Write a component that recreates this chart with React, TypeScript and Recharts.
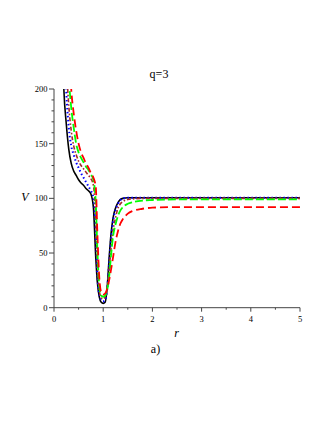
import React from "react";
import { LineChart, Line, XAxis, YAxis } from "recharts";

const rValues = [0.15,0.2,0.25,0.3,0.35,0.4,0.45,0.5,0.55,0.6,0.65,0.7,0.75,0.8,0.85,0.88,0.92,0.96,1,1.04,1.08,1.12,1.16,1.2,1.25,1.3,1.35,1.4,1.5,1.6,1.8,2,2.5,3,4,5];
const blackV = [280,200,168,145,132,125,121,117,114,112,109,107,104,92,45,24,10,5,4,5,18,45,68,82,91,96,99,100,100.5,100.5,100.5,100.5,100.5,100.5,100.5,100.5];
const blueV = [340,250,197,165,148,140,133,128,123,119,115,111,107,101,70,32,12,7,6,7,17,40,63,79,89,95,98.5,100,100.5,100.5,100.5,100.5,100.5,100.5,100.5,100.5];
const brownV = [400,290,225,185,162,148,140,134,130,127,124,121,118,112,82,42,16,9,8,10,18,35,55,70,82,91,95,97,99,99.5,100,100,100,100,100,100];
const greenV = [520,380,270,212,183,165,150,142,137,133,129,126,122,117,95,55,20,11,10,11,16,28,48,65,76,84,89,92,95,96.5,98,98.5,99,99,99,99];
const redV = [600,420,320,245,200,178,162,150,142,137,132,128,123,119,110,70,28,14,12,13,17,25,35,46,60,70,77,81,86,88.5,90.5,91.5,92,92,92,92];

const xTicks = [0,0.5,1,1.5,2,2.5,3,3.5,4,4.5,5];
const yTicks = Array.from({ length: 21 }, (_, i) => i * 10);
const xMajor = [0,1,2,3,4,5];
const yMajor = [0,50,100,150,200];

const data = rValues.map((r, i) => ({
  r,
  black: blackV[i],
  blue: blueV[i],
  brown: brownV[i],
  green: greenV[i],
  red: redV[i],
}));

const FONT = "'Liberation Serif', 'Times New Roman', serif";
const AXIS = "#444";

const XTick = (props: any) => {
  const { x, y, payload } = props;
  const major = xMajor.includes(payload.value);
  return (
    <g>
      <line x1={x} x2={x} y1={y} y2={y + (major ? 4 : 2)} stroke={AXIS} strokeWidth={1} />
      {major && (
        <text x={x} y={y + 14.3} textAnchor="middle" fontSize={8.5} fontFamily={FONT} fill="#000">
          {payload.value}
        </text>
      )}
    </g>
  );
};

const YTick = (props: any) => {
  const { x, y, payload } = props;
  const major = yMajor.includes(payload.value);
  return (
    <g>
      <line x1={x - (major ? 5 : 2.5)} x2={x} y1={y} y2={y} stroke={AXIS} strokeWidth={1} />
      {major && (
        <text x={x - 6.5} y={y + 3} textAnchor="end" fontSize={8.5} fontFamily={FONT} fill="#000">
          {payload.value}
        </text>
      )}
    </g>
  );
};

export default function App() {
  return (
    <div style={{ position: "relative", width: 319, height: 415 }}>
      <LineChart
        width={319}
        height={415}
        data={data}
        margin={{ top: 81, right: 27, left: 6, bottom: 85.3 }}
      >
        <XAxis
          dataKey="r"
          type="number"
          domain={[0, 5]}
          ticks={xTicks}
          tick={<XTick />}
          tickLine={false}
          tickSize={0}
          tickMargin={0}
          axisLine={{ stroke: AXIS, strokeWidth: 1 }}
          height={30}
          allowDataOverflow
        />
        <YAxis
          type="number"
          domain={[0, 200]}
          ticks={yTicks}
          tick={<YTick />}
          tickLine={false}
          tickSize={0}
          tickMargin={0}
          axisLine={{ stroke: AXIS, strokeWidth: 1 }}
          width={40}
          allowDataOverflow
          interval={0}
        />
        <Line dataKey="black" type="monotone" stroke="#000000" strokeWidth={1.6} dot={false} isAnimationActive={false} />
        <Line dataKey="blue" type="monotone" stroke="#0000ff" strokeWidth={2} strokeDasharray="1.5 2.5" dot={false} isAnimationActive={false} />
        <Line dataKey="brown" type="monotone" stroke="#a52a2a" strokeWidth={1.6} strokeDasharray="4 2 1.5 2" dot={false} isAnimationActive={false} />
        <Line dataKey="green" type="monotone" stroke="#00ff00" strokeWidth={1.8} strokeDasharray="8 3" dot={false} isAnimationActive={false} />
        <Line dataKey="red" type="monotone" stroke="#ff0000" strokeWidth={1.8} strokeDasharray="8 4" dot={false} isAnimationActive={false} />
      </LineChart>
      <svg
        width={319}
        height={415}
        style={{ position: "absolute", left: 0, top: 0, pointerEvents: "none" }}
      >
        <text x={151} y={70} textAnchor="middle" fontSize={12} fontFamily={FONT} fill="#000">q=3</text>
        <text x={17} y={192.7} textAnchor="middle" fontSize={12} fontStyle="italic" fontFamily={FONT} fill="#000">V</text>
        <text x={168.5} y={329} textAnchor="middle" fontSize={12} fontStyle="italic" fontFamily={FONT} fill="#000">r</text>
        <text x={147.5} y={345} textAnchor="middle" fontSize={12} fontFamily={FONT} fill="#000">a)</text>
      </svg>
    </div>
  );
}
